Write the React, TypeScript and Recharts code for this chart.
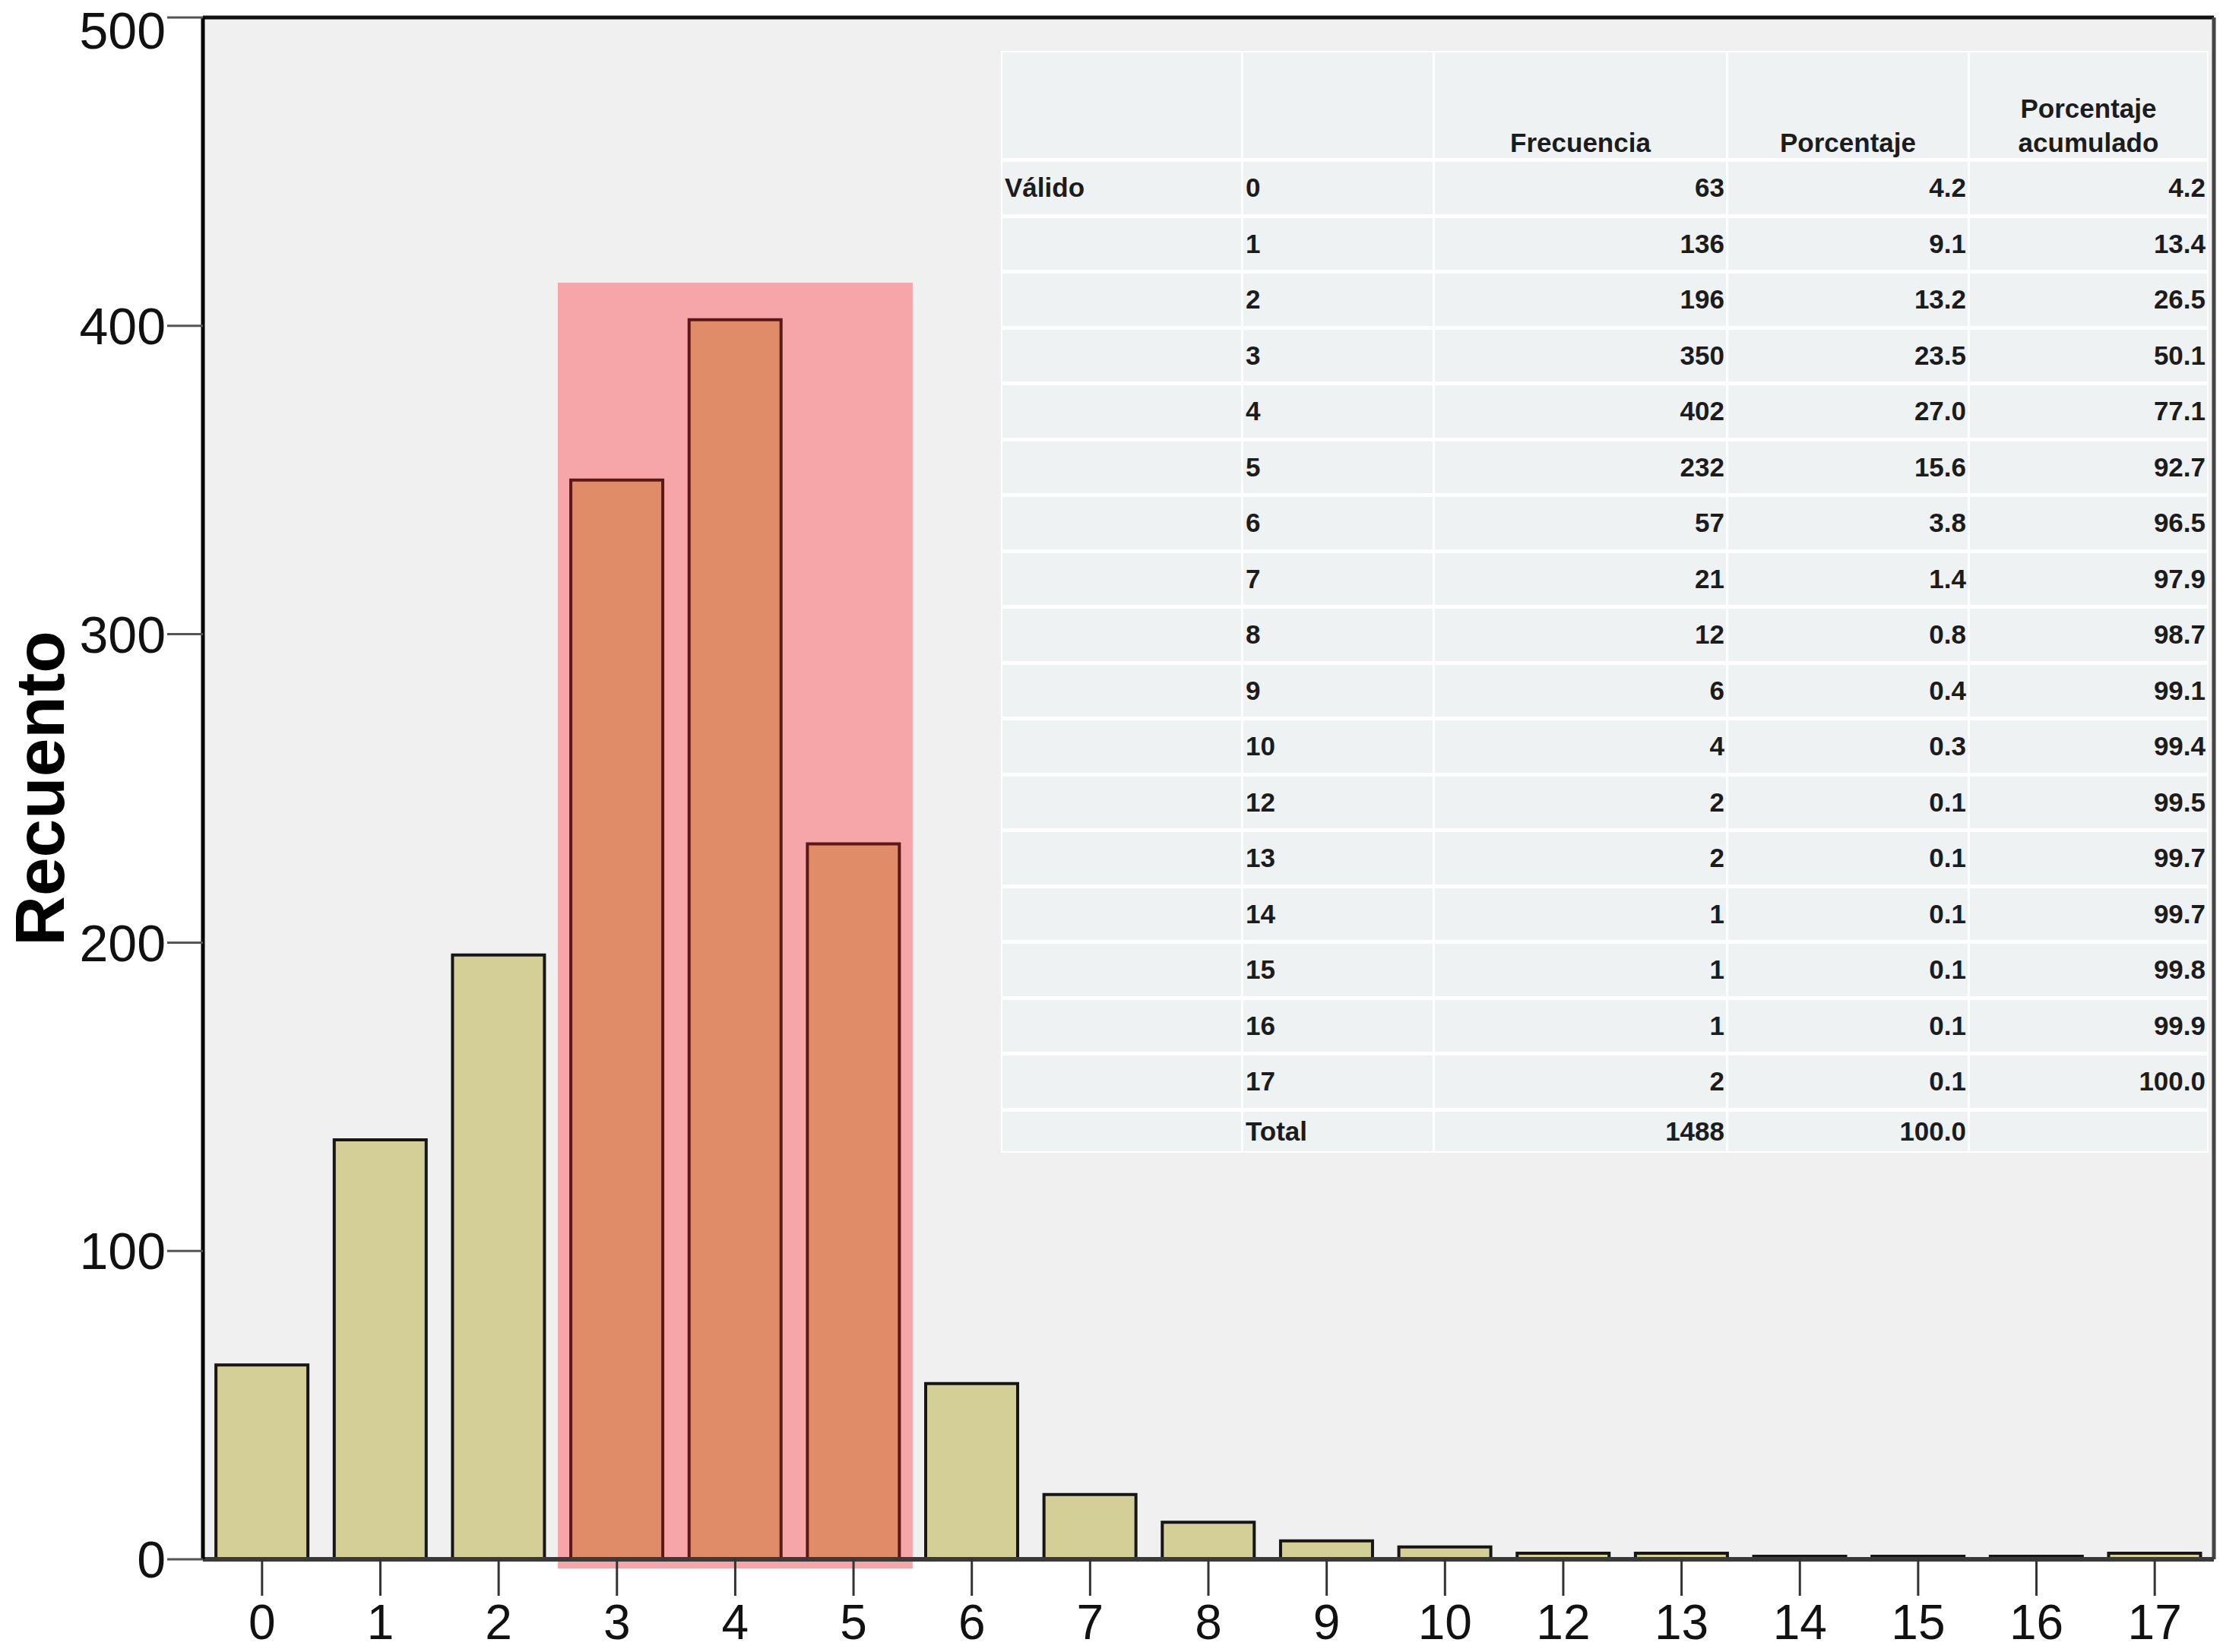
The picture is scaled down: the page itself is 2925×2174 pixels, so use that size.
import React from 'react';
import {
  BarChart,
  Bar,
  XAxis,
  YAxis,
  CartesianGrid,
  Cell,
  ReferenceArea,
  ReferenceLine,
} from 'recharts';

// categories on the x axis (value 11 does not occur)
const categories = ['0', '1', '2', '3', '4', '5', '6', '7', '8', '9', '10', '12', '13', '14', '15', '16', '17'];
const counts = [63, 136, 196, 350, 402, 232, 57, 21, 12, 6, 4, 2, 2, 1, 1, 1, 2];
const percents = ['4.2', '9.1', '13.2', '23.5', '27.0', '15.6', '3.8', '1.4', '0.8', '0.4', '0.3', '0.1', '0.1', '0.1', '0.1', '0.1', '0.1'];
const cumulative = ['4.2', '13.4', '26.5', '50.1', '77.1', '92.7', '96.5', '97.9', '98.7', '99.1', '99.4', '99.5', '99.7', '99.7', '99.8', '99.9', '100.0'];
const totalCount = 1488;
const totalPercent = '100.0';
const highlighted = ['3', '4', '5'];
const yTicks = [0, 100, 200, 300, 400, 500];
const highlightTop = 414;

const data = categories.map((cat, i) => ({ cat, count: counts[i] }));

const FONT = '"Liberation Sans", Arial, sans-serif';

const renderYLabel = (props: any) => {
  const vb = props.viewBox || { x: 0, y: 23, width: 267, height: 2029 };
  const x = vb.x + 84;
  const y = vb.y + vb.height / 2;
  return (
    <text
      x={x}
      y={y}
      transform={`rotate(-90, ${x}, ${y})`}
      textAnchor="middle"
      fontSize={91}
      fontWeight="bold"
      fill="#000"
      fontFamily={FONT}
    >
      Recuento
    </text>
  );
};

const colWidths = [314, 249, 383, 315, 312];
const cellBg = '#eef2f3';

function FreqTable() {
  const cell = (content: React.ReactNode, align: 'left' | 'right' | 'center', key: string) => (
    <div
      key={key}
      style={{
        background: cellBg,
        display: 'flex',
        alignItems: 'center',
        justifyContent: align === 'left' ? 'flex-start' : align === 'right' ? 'flex-end' : 'center',
        padding: align === 'left' ? '0 0 0 3px' : '0 2px 0 0',
      }}
    >
      {content}
    </div>
  );

  // header cells: text sits at the bottom, centred
  const head = (lines: string[], key: string) => (
    <div
      key={key}
      style={{
        background: cellBg,
        display: 'flex',
        flexDirection: 'column',
        justifyContent: 'flex-end',
        alignItems: 'center',
        textAlign: 'center',
      }}
    >
      {lines.map((l, i) => (
        <div key={i} style={{ lineHeight: i < lines.length - 1 ? '50px' : '40px' }}>
          {l}
        </div>
      ))}
    </div>
  );

  const rows: React.ReactNode[] = [];
  rows.push(head([], 'h0'));
  rows.push(head([], 'h1'));
  rows.push(head(['Frecuencia'], 'h2'));
  rows.push(head(['Porcentaje'], 'h3'));
  rows.push(head(['Porcentaje', 'acumulado'], 'h4'));
  categories.forEach((c, i) => {
    rows.push(cell(i === 0 ? 'Válido' : '', 'left', `r${i}a`));
    rows.push(cell(c, 'left', `r${i}b`));
    rows.push(cell(String(counts[i]), 'right', `r${i}c`));
    rows.push(cell(percents[i], 'right', `r${i}d`));
    rows.push(cell(cumulative[i], 'right', `r${i}e`));
  });
  rows.push(cell('', 'left', 'ta'));
  rows.push(cell('Total', 'left', 'tb'));
  rows.push(cell(String(totalCount), 'right', 'tc'));
  rows.push(cell(totalPercent, 'right', 'td'));
  rows.push(cell('', 'right', 'te'));

  return (
    <div
      style={{
        position: 'absolute',
        left: 1317,
        top: 67,
        display: 'grid',
        gridTemplateColumns: colWidths.map((w) => `${w}px`).join(' '),
        gridTemplateRows: `139px repeat(17, 68.5px) 52px`,
        columnGap: 3,
        rowGap: 5,
        background: '#ffffff',
        border: '2px solid #ffffff',
        fontFamily: FONT,
        fontWeight: 'bold',
        fontSize: 35,
        color: '#1c1c1c',
      }}
    >
      {rows}
    </div>
  );
}

export default function App() {
  return (
    <div style={{ position: 'absolute', left: 0, top: 0, width: 2925, height: 2174, background: '#fff' }}>
      <BarChart
        width={2925}
        height={2174}
        data={data}
        margin={{ top: 23, right: 12, left: 0, bottom: 0 }}
        barCategoryGap="11%"
      >
        <CartesianGrid fill="#f0f0f0" horizontal={false} vertical={false} />
        <ReferenceArea
          x1="3"
          x2="5"
          y1={-3}
          y2={highlightTop}
          fill="#f6a6a8"
          fillOpacity={1}
          stroke="none"
          ifOverflow="visible"
        />
        <XAxis
          dataKey="cat"
          type="category"
          interval={0}
          height={122}
          tickSize={48}
          tickMargin={12}
          tick={{ fontSize: 64, fill: '#111', fontFamily: FONT }}
          tickLine={{ stroke: '#333', strokeWidth: 3 }}
          axisLine={{ stroke: '#3a3a3a', strokeWidth: 6 }}
        />
        <YAxis
          type="number"
          domain={[0, 500]}
          ticks={yTicks}
          width={267}
          tickSize={47}
          tickMargin={2}
          tick={{ fontSize: 68, fill: '#111', fontFamily: FONT }}
          tickLine={{ stroke: '#555', strokeWidth: 3 }}
          axisLine={{ stroke: '#000', strokeWidth: 5 }}
          label={{ content: renderYLabel }}
        />
        <ReferenceLine y={500} stroke="#111" strokeWidth={5} />
        <ReferenceLine x="17" position="end" stroke="#444" strokeWidth={5} />
        <Bar dataKey="count" isAnimationActive={false} stroke="#161616" strokeWidth={4}>
          {data.map((d) => {
            const hi = highlighted.includes(d.cat);
            return (
              <Cell
                key={d.cat}
                fill={hi ? '#e08c68' : '#d4cf96'}
                stroke={hi ? '#5e1717' : '#161616'}
              />
            );
          })}
        </Bar>
      </BarChart>
      <FreqTable />
    </div>
  );
}
